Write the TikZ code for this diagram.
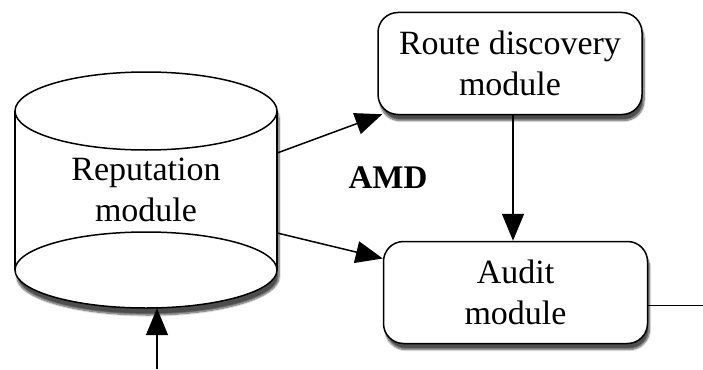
\documentclass[tikz,border=0pt]{standalone}
\usepackage{fontspec}
\setmainfont{Liberation Serif}
\usepackage{tikz}
\usetikzlibrary{shadows,shadows.blur,arrows.meta}

\tikzset{
  modbox/.style={draw, line width=1.5pt, rounded corners=20pt, fill=white,
    minimum width=264pt, minimum height=102pt, align=center,
    blur shadow={shadow xshift=2pt, shadow yshift=-6pt, shadow blur steps=8, shadow opacity=70}},
  arr/.style={line width=1.5pt, -{Triangle[length=27pt,width=22pt,fill=black]}},
  bigtext/.style={font=\fontsize{34}{41}\selectfont}
}

\begin{document}
\begin{tikzpicture}[x=1pt,y=-1pt]

\useasboundingbox (0,0) rectangle (703,369);

% Cylinder body with shadow
\path[fill=white, blur shadow={shadow xshift=2pt, shadow yshift=-7pt, shadow blur steps=8, shadow opacity=70}]
  (15,111) -- (15,270) arc[start angle=180, end angle=0, x radius=131, y radius=38]
  -- (277,111) arc[start angle=0, end angle=-180, x radius=131, y radius=39] -- cycle;

% Top and bottom ellipses and the sides
\draw[line width=1.5pt] (146,111) ellipse [x radius=131, y radius=39];
\draw[line width=1.5pt] (146,270) ellipse [x radius=131, y radius=38];
\draw[line width=1.5pt] (15,111) -- (15,270);
\draw[line width=1.5pt] (277,111) -- (277,270);

\node[bigtext, align=center, minimum width=262pt, minimum height=236pt] (rep) at (146,190) {Reputation\\module};

% Modules
\node[modbox, bigtext] (route) at (510,63.5) {Route discovery\\module};
\node[modbox, bigtext] (audit) at (515.5,292.5) {Audit\\module};

\node[font=\fontsize{33}{40}\selectfont\bfseries] (amd) at (388,178) {AMD};

% Connectors
\coordinate (feed) at (157,369);
\coordinate (out) at (703,305);

\draw[arr] ([yshift=37pt]rep.east) -- ([xshift=5pt,yshift=1pt]route.south west);
\draw[arr] ([yshift=-43pt]rep.east) -- ([yshift=34pt]audit.west);
\draw[arr] (route.south -| 513,0) -- (audit.north -| 513,0);
\draw[arr] (feed) -- (feed |- rep.south);
\draw[line width=1pt] ([yshift=-12.5pt]audit.east) -- (out);

\end{tikzpicture}
\end{document}
